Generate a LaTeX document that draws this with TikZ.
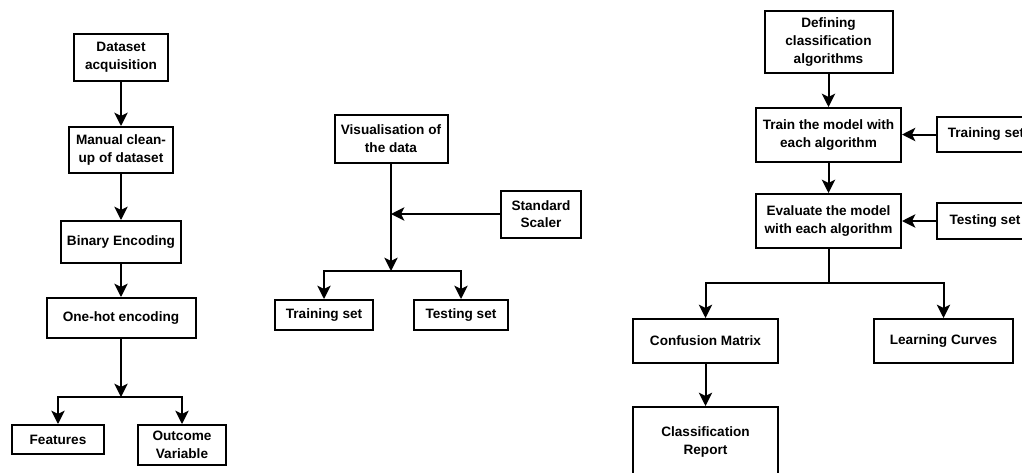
\documentclass[tikz,border=0pt]{standalone}
\usepackage{fontspec}
\setmainfont{Liberation Sans}
\usetikzlibrary{arrows.meta}
\tikzset{
	box/.style={draw,line width=1.5pt,align=center,inner sep=0pt,font=\fontsize{10.2pt}{13.3pt}\selectfont\bfseries},
	flow/.style={line width=1.5pt,-{Stealth[length=10pt,width=10pt,inset=2.5pt]}},
	wire/.style={line width=1.5pt},
}
\begin{document}
\begin{tikzpicture}[x=0.75pt,y=-0.75pt]
			\def\u{0.75pt}
			\useasboundingbox (0,0) rectangle (1022,472);
			\clip (0,0) rectangle (1022,472);
			% preparation of the data
			\node[box,minimum width=94*\u,minimum height=47*\u] (acq) at (121,57.5) {Dataset\\acquisition};
			\node[box,minimum width=104*\u,minimum height=46*\u] (clean) at (121,150) {Manual clean-\\up of dataset};
			\node[box,minimum width=120*\u,minimum height=42*\u] (binenc) at (121,242) {Binary Encoding};
			\node[box,minimum width=149*\u,minimum height=40*\u] (onehot) at (121,318) {One-hot encoding};
			\node[box,minimum width=92*\u,minimum height=29*\u] (feat) at (58,439.5) {Features};
			\node[box,minimum width=88*\u,minimum height=40*\u] (outcome) at (182,445) {Outcome\\Variable};
			\coordinate (jA) at (121,397);
			\draw[flow] (acq) -- (clean);
			\draw[flow] (clean) -- (binenc);
			\draw[flow] (binenc) -- (onehot);
			\draw[flow] (onehot) -- (jA);
			\draw[flow] (jA) -| (feat);
			\draw[flow] (jA) -| (outcome);
			% splitting
			\node[box,minimum width=113*\u,minimum height=48*\u] (vis) at (391,139) {Visualisation of\\the data};
			\node[box,minimum width=80*\u,minimum height=47*\u] (scaler) at (541,214) {Standard\\Scaler};
			\node[box,minimum width=98*\u,minimum height=30*\u] (trainM) at (324,315) {Training set};
			\node[box,minimum width=94*\u,minimum height=30*\u] (testM) at (461,315) {Testing set};
			\coordinate (jB) at (391,271);
			\coordinate (kB) at (391,214);
			\draw[flow] (vis) -- (jB);
			\draw[flow] (scaler) -- (kB);
			\draw[flow] (jB) -| (trainM);
			\draw[flow] (jB) -| (testM);
			% classification
			\node[box,minimum width=128*\u,minimum height=62*\u] (defalg) at (828.5,42) {Defining\\classification\\algorithms};
			\node[box,minimum width=145*\u,minimum height=54*\u] (train) at (828.5,135) {Train the model with\\each algorithm};
			\node[box,minimum width=145*\u,minimum height=54*\u] (eval) at (828.5,221) {Evaluate the model\\with each algorithm};
			\node[box,minimum width=98*\u,minimum height=35*\u] (trainR) at (986,134.5) {Training set};
			\node[box,minimum width=96*\u,minimum height=36*\u] (testR) at (985,221) {Testing set};
			\node[box,minimum width=145*\u,minimum height=44*\u] (confmat) at (705.5,341) {Confusion Matrix};
			\node[box,minimum width=139*\u,minimum height=44*\u] (learn) at (943.5,341) {Learning Curves};
			\node[box,minimum width=145*\u,minimum height=70*\u] (report) at (705.5,442) {Classification\\Report};
			\coordinate (jC) at (828.5,283);
			\draw[flow] (defalg) -- (train);
			\draw[flow] (train) -- (eval);
			\draw[flow] (trainR.west) -- (trainR.west -| train.east);
			\draw[flow] (testR.west) -- (testR.west -| eval.east);
			\draw[wire] (eval) -- (jC);
			\draw[flow] (jC) -| (confmat);
			\draw[flow] (jC) -| (learn);
			\draw[flow] (confmat) -- (report);
		\end{tikzpicture}
\end{document}
